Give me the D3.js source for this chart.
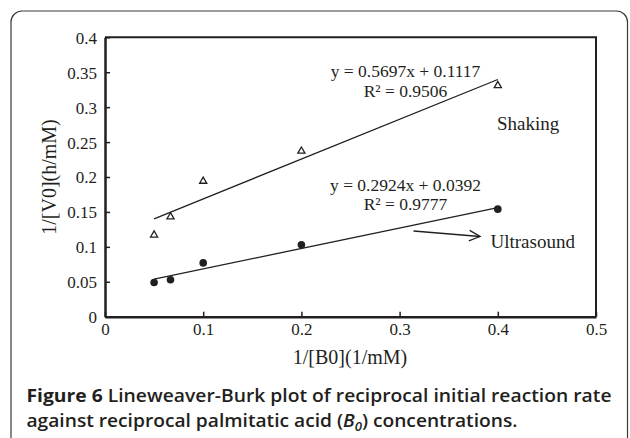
<!DOCTYPE html>
<html><head><meta charset="utf-8">
<script src="https://cdn.jsdelivr.net/npm/d3@7"></script>
<style>
html,body{margin:0;padding:0;background:#fff;}
svg{display:block;}
</style></head>
<body>
<svg id="chart" width="630" height="438"></svg>
<script>
// ---- data ----
const xValues = [0.05, 0.0667, 0.1, 0.2, 0.4];
const shakingValues = [0.117, 0.143, 0.194, 0.237, 0.331];
const ultrasoundValues = [0.049, 0.053, 0.077, 0.103, 0.154];
const shakingFit = {slope: 0.5697, intercept: 0.1117, r2: 0.9506};
const ultrasoundFit = {slope: 0.2924, intercept: 0.0392, r2: 0.9777};
const xTicks = [0, 0.1, 0.2, 0.3, 0.4, 0.5];
const yTicks = [0, 0.05, 0.1, 0.15, 0.2, 0.25, 0.3, 0.35, 0.4];
const xTitle = "1/[B0](1/mM)";
const yTitle = "1/[V0](h/mM)";
const seriesNames = ["Shaking", "Ultrasound"];

const ink = "#231f20";
const svg = d3.select("#chart");
const serif = "'Liberation Serif','Times New Roman',serif";
const sans = "'Open Sans','Noto Sans',sans-serif";

// outer rounded border
svg.append("rect").attr("x", 11).attr("y", 11).attr("width", 616.5).attr("height", 460)
  .attr("rx", 11).attr("fill", "none").attr("stroke", "#3a3a3a").attr("stroke-width", 1.2);

const x = d3.scaleLinear().domain([0, 0.5]).range([105, 596]);
const y = d3.scaleLinear().domain([0, 0.4]).range([316.7, 37.3]);

// frame top/right
svg.append("path")
  .attr("d", `M${x(0)},${y(0.4)}H${x(0.5)}V${y(0)}`)
  .attr("fill", "none").attr("stroke", ink).attr("stroke-width", 2);

const fmt = d => d === 0 ? "0" : String(+d.toFixed(2));

const gx = svg.append("g").attr("transform", `translate(0,${y(0)})`)
  .call(d3.axisBottom(x).tickValues(xTicks).tickFormat(fmt).tickSizeInner(-5).tickSizeOuter(0));
const gy = svg.append("g").attr("transform", `translate(${x(0)},0)`)
  .call(d3.axisLeft(y).tickValues(yTicks).tickFormat(fmt).tickSizeInner(-5).tickSizeOuter(0));

[gx, gy].forEach(g => {
  g.select(".domain").attr("stroke", ink).attr("stroke-width", 2.5);
  g.selectAll(".tick line").attr("stroke", ink).attr("stroke-width", 1.5);
  g.selectAll("text").attr("fill", ink).style("font-family", serif).style("font-size", "17px");
});
gx.selectAll(".tick text").attr("y", 18.5).attr("dy", 0);
gy.selectAll(".tick text").attr("x", -8).attr("dy", "0.35em");

// axis titles
svg.append("text").attr("x", 350).attr("y", 364).attr("text-anchor", "middle")
  .attr("fill", ink).style("font-family", serif).style("font-size", "20px").text(xTitle);
svg.append("text").attr("transform", `translate(56,${177}) rotate(-90)`).attr("text-anchor", "middle")
  .attr("fill", ink).style("font-family", serif).style("font-size", "20px").text(yTitle);

// trend lines
function fitLine(fit) {
  const x0 = d3.min(xValues), x1 = d3.max(xValues);
  return [[x0, fit.slope * x0 + fit.intercept], [x1, fit.slope * x1 + fit.intercept]];
}
const line = d3.line().x(d => x(d[0])).y(d => y(d[1]));
[shakingFit, ultrasoundFit].forEach(f => {
  svg.append("path").attr("d", line(fitLine(f))).attr("fill", "none")
    .attr("stroke", ink).attr("stroke-width", 1.3);
});

// markers
const tri = d3.symbol().type(d3.symbolTriangle).size(22);
svg.selectAll(".tri").data(xValues.map((v, i) => [v, shakingValues[i]])).join("path")
  .attr("d", tri).attr("transform", d => `translate(${x(d[0])},${y(d[1])})`)
  .attr("fill", "#fff").attr("stroke", ink).attr("stroke-width", 1.3);
svg.selectAll(".dot").data(xValues.map((v, i) => [v, ultrasoundValues[i]])).join("circle")
  .attr("cx", d => x(d[0])).attr("cy", d => y(d[1])).attr("r", 3.8).attr("fill", ink);

// equations
function eq(fit, yb) {
  const t = svg.append("g");
  t.append("text").attr("x", 405.5).attr("y", yb).attr("text-anchor", "middle")
    .attr("fill", ink).style("font-family", serif).style("font-size", "17.5px")
    .text(`y = ${fit.slope.toFixed(4)}x + ${fit.intercept.toFixed(4)}`);
  t.append("text").attr("x", 405.5).attr("y", yb + 19.5).attr("text-anchor", "middle")
    .attr("fill", ink).style("font-family", serif).style("font-size", "17.5px")
    .text(`R² = ${fit.r2.toFixed(4)}`);
}
eq(shakingFit, 77);
eq(ultrasoundFit, 190.5);

// series labels
svg.append("text").attr("x", 497).attr("y", 129.5).attr("fill", ink)
  .style("font-family", serif).style("font-size", "19px").text(seriesNames[0]);
svg.append("text").attr("x", 490.5).attr("y", 248).attr("fill", ink)
  .style("font-family", serif).style("font-size", "19px").text(seriesNames[1]);

// arrow
const ax0 = 413.5, ay0 = 231, ax1 = 480, ay1 = 236.5;
svg.append("path").attr("d", `M${ax0},${ay0}L${ax1},${ay1}`).attr("stroke", ink).attr("stroke-width", 1.3).attr("fill", "none");
const ang = Math.atan2(ay1 - ay0, ax1 - ax0);
const hl = 12, ha = 0.45;
svg.append("path")
  .attr("d", `M${ax1 - hl * Math.cos(ang - ha)},${ay1 - hl * Math.sin(ang - ha)}L${ax1},${ay1}L${ax1 - hl * Math.cos(ang + ha)},${ay1 - hl * Math.sin(ang + ha)}`)
  .attr("stroke", ink).attr("stroke-width", 1.3).attr("fill", "none");

// caption
const cap1 = svg.append("text").attr("x", 26.5).attr("y", 401.5).attr("fill", ink)
  .style("font-family", sans).style("font-weight", "700").style("font-size", "17.5px")
  .attr("textLength", 585).attr("lengthAdjust", "spacingAndGlyphs");
cap1.append("tspan").text("Figure 6 ");
cap1.append("tspan").style("font-weight", "600").text("Lineweaver-Burk plot of reciprocal initial reaction rate");
const cap2 = svg.append("text").attr("x", 26.5).attr("y", 426.5).attr("fill", ink)
  .style("font-family", sans).style("font-weight", "600").style("font-size", "17.5px")
  .attr("textLength", 491).attr("lengthAdjust", "spacingAndGlyphs");
cap2.append("tspan").text("against reciprocal palmitatic acid (");
cap2.append("tspan").style("font-style", "italic").text("B");
cap2.append("tspan").style("font-style", "italic").style("font-size", "12px").attr("dy", 4).text("0");
cap2.append("tspan").attr("dy", -4).text(") concentrations.");
</script>
</body></html>
